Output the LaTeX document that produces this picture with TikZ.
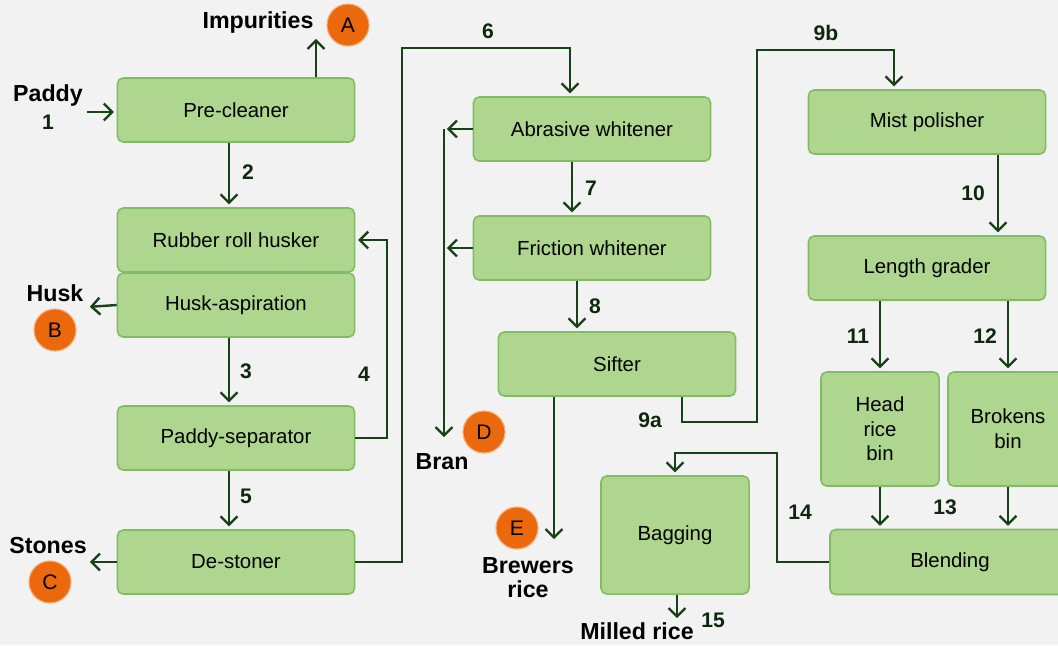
\documentclass[tikz,border=0pt]{standalone}
\usepackage{fontspec}
\setmainfont{Liberation Sans}
\usetikzlibrary{arrows.meta,positioning}

\definecolor{boxfill}{RGB}{174,214,142}
\definecolor{boxline}{RGB}{128,188,98}
\definecolor{flowgreen}{RGB}{22,66,22}
\definecolor{tagorange}{RGB}{236,104,12}
\definecolor{bggray}{RGB}{242,242,242}

\tikzset{
  unit/.style={draw=boxline, fill=boxfill, line width=1.1pt, rounded corners=4pt,
    minimum width=5.925cm, minimum height=1.6cm, align=center,
    font=\fontsize{14.5}{17.5}\selectfont},
  flow/.style={draw=flowgreen, line width=1.7pt, shorten >=2pt,
    -{Straight Barb[length=6pt,width=12pt]}},
  lbl/.style={font=\fontsize{16.5}{17}\selectfont\bfseries, align=center, inner sep=0pt},
  num/.style={font=\fontsize{15}{18}\selectfont\bfseries, text=flowgreen!60!black, inner sep=0pt},
  tag/.style={circle, fill=tagorange, draw=tagorange!55!white, line width=0.8pt,
    minimum size=1.05cm, inner sep=0pt, font=\fontsize{15}{18}\selectfont}
}

\begin{document}
\begin{tikzpicture}
      [x=0.025cm, y=-0.025cm]
      \useasboundingbox[fill=bggray] (0,0) rectangle (1058,645);

      \node [unit] (pre)   at (236,110) {Pre-cleaner};
      \node [unit] (rrh)   at (236,240) {Rubber roll husker};
      \node [unit] (husk)  at (236,305) {Husk-aspiration};
      \node [unit] (psep)  at (236,438) {Paddy-separator};
      \node [unit] (dest)  at (236,562) {De-stoner};
      \node [unit] (abr)   at (592,129) {Abrasive whitener};
      \node [unit] (fric)  at (592,248) {Friction whitener};
      \node [unit] (sift)  at (617,364) {Sifter};
      \node [unit] (mist)  at (927,122) {Mist polisher};
      \node [unit] (len)   at (927,268) {Length grader};
      \node [unit, minimum width=2.95cm, minimum height=2.85cm] (head) at (880,429) {Head\\rice\\bin};
      \node [unit, minimum width=3cm, minimum height=2.85cm]    (brok) at (1008,429) {Brokens\\bin};
      \node [unit, minimum width=6cm, minimum height=1.625cm]   (blend) at (950,562) {Blending};
      \node [unit, minimum width=3.7cm, minimum height=2.95cm]  (bag) at (675,535) {Bagging};

      \node [lbl] (paddy)    at (48,95)   {Paddy};
      \node [lbl] (impur)    at (258,22)  {Impurities};
      \node [lbl] (husklbl)  at (55,293)  {Husk};
      \node [lbl] (stones)   at (48,546)  {Stones};
      \node [lbl] (bran)     at (442,462) {Bran};
      \node [lbl] (brewers)  at (528,578) {Brewers\\rice};
      \node [lbl] (milled)   at (637,631) {Milled rice};

      \node [tag] (tA) at (348,25)  {A};
      \node [tag] (tB) at (55,330)  {B};
      \node [tag] (tC) at (50,582)  {C};
      \node [tag] (tD) at (484,432) {D};
      \node [tag] (tE) at (517,528) {E};

      \node [num] (n1)  at (48,122)  {1};
      \node [num] (n2)  at (248,172) {2};
      \node [num] (n3)  at (246,371) {3};
      \node [num] (n4)  at (364,374) {4};
      \node [num] (n5)  at (246,496) {5};
      \node [num] (n6)  at (488,31)  {6};
      \node [num] (n7)  at (591,188) {7};
      \node [num] (n8)  at (595,306) {8};
      \node [num] (n9a) at (650,420) {9a};
      \node [num] (n9b) at (826,33)  {9b};
      \node [num] (n10) at (973,193) {10};
      \node [num] (n11) at (858,336) {11};
      \node [num] (n12) at (985,336) {12};
      \node [num] (n13) at (945,507) {13};
      \node [num] (n14) at (800,512) {14};
      \node [num] (n15) at (713,620) {15};

      \coordinate (paddyin) at (87,112);
      \coordinate (impout)  at (316,36);
      \coordinate (huskout) at (87,307);
      \coordinate (stonout) at (87,562);
      \coordinate (branend) at (444,440);
      \coordinate (brewend) at (554,542);
      \coordinate (bagout)  at (677,621);

      \draw [flow] (paddyin) to (pre.west |- paddyin);
      \draw [flow] (pre.north -| impout) to (impout);
      \draw [flow] (pre.south -| 229,0)  to (rrh.north -| 229,0);
      \draw [flow] (husk.west)           to (huskout);
      \draw [flow] (husk.south -| 229,0) to (psep.north -| 229,0);
      \draw [flow] (psep.east) -- (387,438) |- (rrh.east);
      \draw [flow] (psep.south -| 229,0) to (dest.north -| 229,0);
      \draw [flow] (dest.west)           to (stonout);
      \draw [flow] (dest.east) -| (402,48) -| (abr.north -| 570,0);
      \draw [flow] (abr.west)  to (abr.west -| branend);
      \draw [flow] (fric.west) to (fric.west -| branend);
      \draw [flow] (abr.west -| branend) to (branend);
      \draw [flow] (abr.south -| 572,0)  to (fric.north -| 572,0);
      \draw [flow] (fric.south -| 577,0) to (sift.north -| 577,0);
      \draw [flow] (sift.south -| brewend) to (brewend);
      \draw [flow] (sift.south -| 682,0) |- (757,422) |- (894,50) -- (mist.north -| 894,0);
      \draw [flow] (mist.south -| 998,0) to (len.north -| 998,0);
      \draw [flow] (len.south -| head.north) to (head.north);
      \draw [flow] (len.south -| brok.north) to (brok.north);
      \draw [flow] (head.south) to (head.south |- blend.north);
      \draw [flow] (brok.south) to (brok.south |- blend.north);
      \draw [flow] (blend.west) -| (777,453) -| (bag.north);
      \draw [flow] (bag.south -| bagout) to (bagout);
    \end{tikzpicture}
\end{document}
